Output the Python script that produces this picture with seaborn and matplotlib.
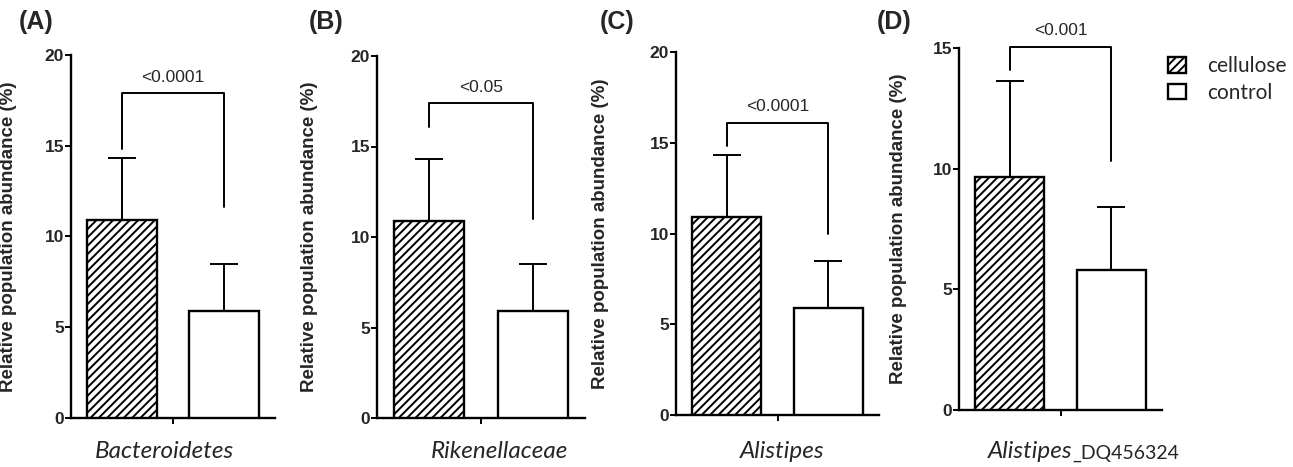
import numpy as np
import pandas as pd
import matplotlib
matplotlib.use("Agg")
import matplotlib.pyplot as plt
import seaborn as sns
from matplotlib.patches import Patch

# Values
panels = ["(A)", "(B)", "(C)", "(D)"]
taxa = ["Bacteroidetes", "Rikenellaceae", "Alistipes", "Alistipes"]
taxa_suffix = ["", "", "", "_DQ456324"]
treatments = ["cellulose", "control"]
cellulose_mean = [10.9, 10.9, 10.9, 9.65]
cellulose_err = [3.4, 3.4, 3.4, 4.0]
control_mean = [5.9, 5.9, 5.9, 5.8]
control_err = [2.6, 2.6, 2.6, 2.6]
p_labels = ["<0.0001", "<0.05", "<0.0001", "<0.001"]
bracket_top = [17.9, 17.4, 16.1, 15.05]
bracket_left_end = [14.8, 16.1, 14.8, 14.1]
bracket_right_end = [11.6, 11.0, 10.0, 10.3]
y_max = [20, 20, 20, 15]
y_ticks = [[0, 5, 10, 15, 20]] * 3 + [[0, 5, 10, 15]]

sns.set_style("white")
plt.rcParams["hatch.linewidth"] = 1.4
narrow = ["Liberation Sans Narrow", "Liberation Sans", "DejaVu Sans"]
arial = ["Liberation Sans", "DejaVu Sans"]
humanist = ["Lato", "DejaVu Sans"]

W, H = 1293, 467
fig = plt.figure(figsize=(W / 100, H / 100), dpi=100)

# axes boxes in pixels: left, y of zero line, y of top tick, right
boxes = [(71, 418, 55, 275), (377, 418, 56, 585), (676, 415, 52, 879), (959, 410, 48, 1162)]
ylabel_px = [17, 318, 609, 907]
xlabel_px = [164, 500, 782, 1030]
letter_px = [(19, 22), (309, 22), (600, 22), (877, 22)]

for i in range(4):
    l, b, t, r = boxes[i]
    ax = fig.add_axes([l / W, (H - b) / H, (r - l) / W, (b - t) / H])
    df = pd.DataFrame({
        "taxon": [taxa[i]] * 2,
        "treatment": treatments,
        "value": [cellulose_mean[i], control_mean[i]],
    })
    sns.barplot(data=df, x="taxon", y="value", hue="treatment", hue_order=treatments,
                palette={"cellulose": "white", "control": "white"}, edgecolor="black",
                linewidth=1.7, gap=0.32, errorbar=None, legend=False, ax=ax, zorder=3)
    bars = ax.patches[:2]
    bars[0].set_hatch("////")
    xc = [p.get_x() + p.get_width() / 2 for p in bars]

    ax.errorbar(xc, [cellulose_mean[i], control_mean[i]],
                yerr=[[0, 0], [cellulose_err[i], control_err[i]]],
                fmt="none", ecolor="black", elinewidth=1.4, capsize=10, capthick=1.4, zorder=2)

    # significance bracket
    ax.plot([xc[0], xc[0], xc[1], xc[1]],
            [bracket_left_end[i], bracket_top[i], bracket_top[i], bracket_right_end[i]],
            color="black", lw=1.4, clip_on=False)
    ax.annotate(p_labels[i], xy=(np.mean(xc), bracket_top[i]), xytext=(0, 11.5),
                textcoords="offset points", ha="center", va="center",
                fontsize=12.5, family=narrow, annotation_clip=False)

    ax.set_xlim(-0.4, 0.4)
    ax.set_ylim(0, y_max[i])
    ax.set_yticks(y_ticks[i])
    ax.set_yticklabels([str(v) for v in y_ticks[i]], fontsize=12.5, fontweight="bold", family=narrow)
    ax.set_xticks([0])
    ax.set_xticklabels([""])
    ax.tick_params(axis="both", direction="out", length=4, width=1.4, color="black", pad=1,
                   left=True, bottom=True)
    for s in ["top", "right"]:
        ax.spines[s].set_visible(False)
    for s in ["left", "bottom"]:
        ax.spines[s].set_linewidth(1.7)
        ax.spines[s].set_color("black")
    ax.set_xlabel("")
    ax.set_ylabel("Relative population abundance (%)", fontsize=13.5, fontweight="bold", family=arial)
    ax.yaxis.set_label_coords((ylabel_px[i] - l) / (r - l), 0.5)
    ax.grid(False)

    lab = fig.text(xlabel_px[i] / W, 1 - 452 / H, taxa[i], ha="center", va="center",
                   fontsize=17.5, style="italic", family=humanist)
    if taxa_suffix[i]:
        ax.annotate(taxa_suffix[i], xy=(1, 0), xycoords=lab, va="bottom", ha="left",
                    fontsize=14, family=humanist)

    fig.text(letter_px[i][0] / W, 1 - letter_px[i][1] / H, panels[i], ha="left", va="center",
             fontsize=18, fontweight="bold", family=arial)

    if i == 3:
        handles = [Patch(facecolor="white", edgecolor="black", hatch="////", lw=1.7, label="cellulose"),
                   Patch(facecolor="white", edgecolor="black", lw=1.7, label="control")]
        ax.legend(handles=handles, loc="upper left", bbox_to_anchor=(0.99, 1.0), frameon=False,
                  prop={"family": humanist, "size": 15}, handlelength=0.85,
                  handleheight=0.75, handletextpad=1.0, labelspacing=0.3, borderaxespad=0)

fig.savefig("out.png", dpi=100)
